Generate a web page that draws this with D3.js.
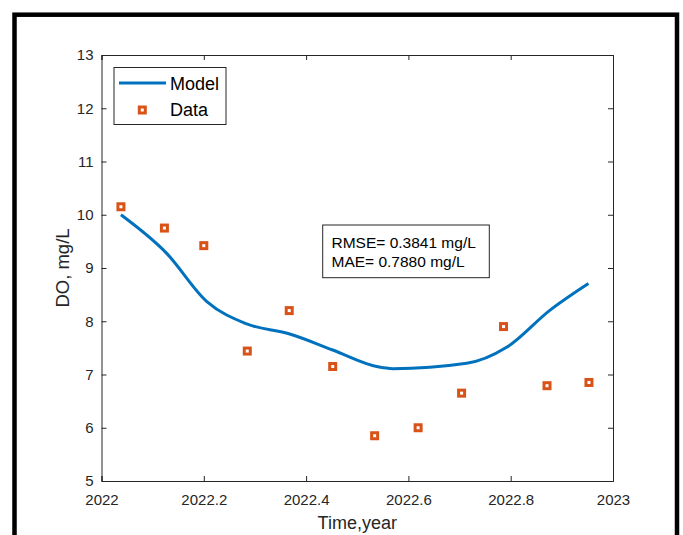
<!DOCTYPE html>
<html>
<head>
<meta charset="utf-8">
<script src="https://cdn.jsdelivr.net/npm/d3@7.9.0/dist/d3.min.js"></script>
<style>
  body { margin: 0; background: #fff; }
  svg { display: block; font-family: "Liberation Sans", Arial, sans-serif; }
</style>
</head>
<body>
<svg id="chart" width="683" height="535"></svg>
<script>
// sample times (mid-month, decimal years)
const times = [2022.038, 2022.123, 2022.2, 2022.285, 2022.367, 2022.452,
               2022.534, 2022.619, 2022.704, 2022.786, 2022.871, 2022.953];
const observed = [10.15, 9.75, 9.42, 7.44, 8.2, 7.15, 5.85, 6.0, 6.65, 7.9, 6.79, 6.85];
const modelTimes = [2022.038, 2022.127, 2022.206, 2022.284, 2022.368, 2022.452,
                    2022.538, 2022.57, 2022.714, 2022.792, 2022.877, 2022.952];
const modelValues = [10.0, 9.28, 8.37, 7.95, 7.76, 7.46, 7.15, 7.11, 7.21, 7.51, 8.21, 8.71];
const xTicks = [2022, 2022.2, 2022.4, 2022.6, 2022.8, 2023];
const yTicks = [5, 6, 7, 8, 9, 10, 11, 12, 13];
const statLines = ['RMSE= 0.3841 mg/L', 'MAE= 0.7880 mg/L'];

const svg = d3.select('#chart');
const axisColor = '#262626';
const blue = '#0072BD';
const orange = '#D95319';

const plotL = 101.5, plotR = 613, plotT = 55, plotB = 481;
const x = d3.scaleLinear().domain([2022, 2023]).range([plotL, plotR]);
const y = d3.scaleLinear().domain([5, 13]).range([plotB, plotT]);

// outer frame
svg.append('rect')
  .attr('x', 14.5).attr('y', 14.7)
  .attr('width', 662.5).attr('height', 600)
  .attr('fill', 'none').attr('stroke', '#000').attr('stroke-width', 4.5);

// axes (box with inward ticks)
const tickFmt = d => String(+d.toFixed(1));
const gx = svg.append('g').attr('transform', `translate(0,${plotB})`)
  .call(d3.axisBottom(x).tickValues(xTicks).tickSize(-5).tickPadding(13).tickFormat(tickFmt));
const gxTop = svg.append('g').attr('transform', `translate(0,${plotT})`)
  .call(d3.axisTop(x).tickValues(xTicks).tickSize(-5).tickFormat(''));
const gy = svg.append('g').attr('transform', `translate(${plotL},0)`)
  .call(d3.axisLeft(y).tickValues(yTicks).tickSize(-5).tickPadding(8));
const gyRight = svg.append('g').attr('transform', `translate(${plotR},0)`)
  .call(d3.axisRight(y).tickValues(yTicks).tickSize(-5).tickFormat(''));

[gx, gxTop, gy, gyRight].forEach(g => {
  g.select('.domain').attr('stroke', axisColor).attr('stroke-width', 1);
  g.selectAll('.tick line').attr('stroke', axisColor);
  g.selectAll('.tick text').attr('fill', axisColor).attr('font-size', 15)
    .attr('font-family', '"Liberation Sans", Arial, sans-serif');
});
gx.selectAll('.tick text').attr('dy', '0.71em');

// axis titles
svg.append('text')
  .attr('x', (plotL + plotR) / 2).attr('y', 529)
  .attr('text-anchor', 'middle').attr('font-size', 18).attr('fill', axisColor)
  .text('Time,year');
svg.append('text')
  .attr('transform', `translate(69,${(plotT + plotB) / 2}) rotate(-90)`)
  .attr('text-anchor', 'middle').attr('font-size', 18.5).attr('fill', axisColor)
  .text('DO, mg/L');

// model line
const line = d3.line()
  .x((d, i) => x(modelTimes[i]))
  .y(d => y(d))
  .curve(d3.curveMonotoneX);
svg.append('path')
  .datum(modelValues)
  .attr('d', line)
  .attr('fill', 'none').attr('stroke', blue).attr('stroke-width', 3);

// data markers
svg.append('g').selectAll('rect')
  .data(observed)
  .join('rect')
  .attr('x', (d, i) => x(times[i]) - 3)
  .attr('y', d => y(d) - 3)
  .attr('width', 6).attr('height', 6)
  .attr('fill', '#fff').attr('stroke', orange).attr('stroke-width', 3);

// legend
const lg = svg.append('g');
lg.append('rect')
  .attr('x', 114).attr('y', 67.5).attr('width', 112).attr('height', 57)
  .attr('fill', '#fff').attr('stroke', axisColor).attr('stroke-width', 1);
lg.append('line')
  .attr('x1', 119).attr('x2', 166).attr('y1', 83).attr('y2', 83)
  .attr('stroke', blue).attr('stroke-width', 3);
lg.append('text').attr('x', 170).attr('y', 90).attr('font-size', 18).text('Model');
lg.append('rect')
  .attr('x', 139.3).attr('y', 107).attr('width', 6).attr('height', 6)
  .attr('fill', '#fff').attr('stroke', orange).attr('stroke-width', 3);
lg.append('text').attr('x', 170).attr('y', 116).attr('font-size', 18).text('Data');

// stats box
const sb = svg.append('g');
sb.append('rect')
  .attr('x', 322.7).attr('y', 225).attr('width', 166.6).attr('height', 52.7)
  .attr('fill', '#fff').attr('stroke', axisColor).attr('stroke-width', 1);
statLines.forEach((s, i) => {
  sb.append('text')
    .attr('x', 331.5).attr('y', 247.5 + i * 19.2)
    .attr('font-size', 15.5).attr('fill', '#000')
    .text(s);
});
</script>
</body>
</html>
